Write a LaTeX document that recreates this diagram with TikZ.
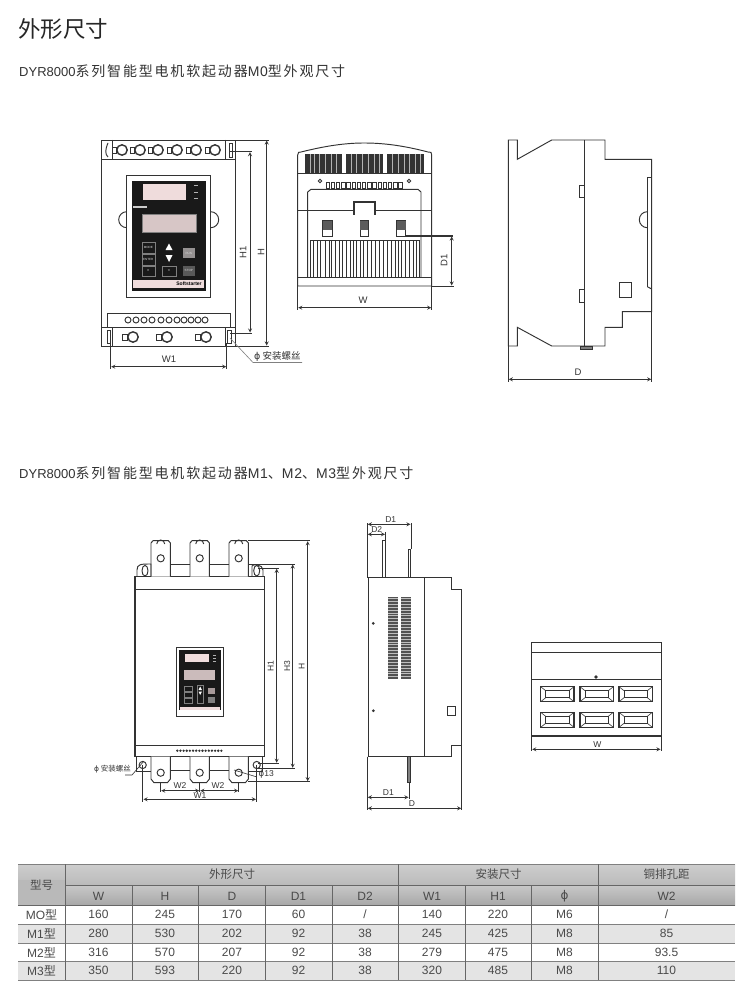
\documentclass[tikz,border=0pt]{standalone}
\usepackage{fontspec}
\setmainfont{Liberation Sans}
\newfontfamily\cjk{Noto Sans CJK SC}
\newfontfamily\cjksub[LetterSpace=13]{Noto Sans CJK SC}
\newfontfamily\latsub[LetterSpace=5]{Liberation Sans}
\newfontfamily\symf{DejaVu Sans}
\newcommand{\zhs}[1]{{\cjksub\fontsize{14}{15}\selectfont #1}}
\newcommand{\las}[1]{{\latsub\fontsize{14}{15}\selectfont #1}}
\usetikzlibrary{arrows,calc,positioning}
\definecolor{inkc}{HTML}{333333}
\definecolor{textc}{HTML}{4A4A4A}
\definecolor{headc}{HTML}{B9B9B9}
\definecolor{rowc}{HTML}{E4E4E4}
\definecolor{pinkc}{HTML}{EFDCDC}
\tikzset{
  part/.style = {draw = inkc, line width = 0.95pt},
  heavy/.style = {draw = inkc, line width = 1.4pt},
  thinl/.style = {draw = inkc, line width = 0.6pt},
  dim/.style = {draw = inkc, line width = 0.8pt, stealth-stealth, shorten >=0.5pt, shorten <=0.5pt},
  dimtext/.style = {font = \fontsize{9.5}{10}\selectfont, text = inkc, inner sep = 0.5pt},
  dimsmall/.style = {font = \fontsize{8.5}{9}\selectfont, text = inkc, inner sep = 0.5pt},
  keytext/.style = {font = \fontsize{3}{3}\selectfont, text = white!85!black, inner sep = 0pt},
  cell/.style = {font = \fontsize{12}{13}\selectfont, text = textc, inner sep = 0pt}
}
\begin{document}
\begin{tikzpicture}[x = 1pt, y = -1pt]
\useasboundingbox (0,0) rectangle (747,1000);
\fill[white] (0,0) rectangle (747,1000);
% headings
\node[anchor = west, inner sep = 0pt, text = black!85, font = \cjk\fontsize{22.5}{24}\selectfont] (title) at (18, 29) {外形尺寸};
\node[anchor = west, inner sep = 0pt, text = black!80, font = \fontsize{13}{14}\selectfont] (sub0) at (19, 71) {DYR8000\zhs{系列智能型电机软起动器}\las{M0}\zhs{型外观尺寸}};
\node[anchor = west, inner sep = 0pt, text = black!80, font = \fontsize{13}{14}\selectfont] (sub1) at (19, 473) {DYR8000\zhs{系列智能型电机软起动器}\las{M1}\zhs{、}\las{M2}\zhs{、}\las{M3}\zhs{型外观尺寸}};

% M0 front
\path[part] (101.7, 140) rectangle (235.7, 346);
\path[part] (101.7, 159) -- (235.7, 159);
\path[part] (112, 140) -- (112, 159);
\path[part] (225, 140) -- (225, 159);
\path[part] (107, 313) rectangle (230, 327);
\path[part] (101.7, 327) -- (235.7, 327);
\path[part] (112, 327) -- (112, 346);
\path[part] (225, 327) -- (225, 346);
\foreach \x in {122, 140, 158, 177, 196, 215} {
  \path[heavy] (\x, 150) circle (5.2);
  \path[part] (\x-10, 147) rectangle (\x-5.2, 153);
}
\foreach \x in {133, 167, 206} {
  \path[heavy] (\x, 337) circle (5.2);
  \path[part] (\x-11, 334) rectangle (\x-5.2, 340);
}
\foreach \x in {128, 136, 144, 152, 161, 169, 177, 184, 191, 198, 205} {
  \path[part] (\x, 320) circle (3);
}
\path[part] (108, 143) .. controls (105, 150) and (105, 154) .. (108, 157);
\path[part] (229, 143) rectangle (232, 157);
\path[part] (107, 330) rectangle (110, 343);
\path[part] (227, 330) rectangle (231, 343);
\path[part] (126.7, 227.7) arc (90:270:8);
\path[part] (210.7, 227.7) arc (90:-90:8);
% M0 panel
\path[part, fill = white] (126.7, 175) rectangle (210.7, 297);
\fill[black!90] (131.7, 180.7) rectangle (205.7, 291);
\fill[pinkc] (143.3, 184.3) rectangle (185.7, 200);
\path[draw = gray, fill = pinkc!90!black] (141.7, 214.3) rectangle (196, 232.3);
\fill[pinkc] (132.7, 280) rectangle (204.3, 287.7);
\fill[white!80!black] (132.7, 206.5) rectangle (146.7, 208);
\foreach \y in {185.7, 192.3, 198.3} { \fill[white!70!black] (194, \y-0.7) rectangle (198, \y+0.7); }
\path[draw = gray, line width = 0.4pt] (141.7, 241.7) rectangle (155, 253.3);
\path[draw = gray, line width = 0.4pt] (141.7, 254) rectangle (155, 265);
\path[draw = gray, line width = 0.4pt] (141.7, 266) rectangle (155, 275.7);
\path[draw = gray, line width = 0.4pt] (162.3, 266) rectangle (175.7, 275.7);
\node[keytext] (mode) at (148.3, 247.5) {MODE};
\node[keytext] (enter) at (148.3, 259.5) {ENTER};
\node[keytext, font = \fontsize{4}{4}\selectfont] (right) at (148.3, 271) {>>};
\node[keytext, font = \fontsize{4}{4}\selectfont] (left) at (169, 271) {<<};
\fill[white] (169, 243.5) -- (172.5, 250) -- (165.5, 250) -- cycle;
\fill[white] (169, 262) -- (172.5, 255) -- (165.5, 255) -- cycle;
\fill[gray!80!pinkc] (182.7, 248.3) rectangle (195, 258.3);
\fill[gray!70!black] (182.7, 265.7) rectangle (195, 275.7);
\node[keytext] (run) at (188.8, 253.3) {RUN};
\node[keytext] (stop) at (188.8, 270.7) {STOP};
\node[inner sep = 0pt, text = black, font = \bfseries\fontsize{5}{5}\selectfont] (brand) at (189, 284) {Softstarter};
% M0 front dimensions
\path[thinl] (235.7, 140) -- (269, 140);
\path[thinl] (235.7, 346) -- (269, 346);
\path[heavy] (230, 151.7) -- (252, 151.7);
\path[thinl] (230, 333) -- (252, 333);
\path[dim] (266.7, 140) -- (266.7, 346);
\path[dim] (250, 151.7) -- (250, 333);
\path[thinl] (110.7, 343) -- (110.7, 369);
\path[thinl] (226.7, 343) -- (226.7, 369);
\path[dim] (110.7, 366.7) -- (226.7, 366.7);
\node[dimtext, rotate = 90] (h1a) at (243, 252) {H1};
\node[dimtext, rotate = 90] (ha) at (261, 252) {H};
\node[dimtext] (w1a) at (169, 359) {W1};
\path[draw = gray, line width = 0.6pt] (230, 338) -- (253, 362.5) -- (302, 362.5);
\node[anchor = west, inner sep = 0pt, text = inkc, font = \cjk\fontsize{9.5}{10}\selectfont] (hole0) at (254, 356.5) {{\symf ϕ} 安装螺丝};

% M0 end view
\path[part] (297.7, 286) -- (297.7, 155) .. controls (297.7, 152) and (299, 152) .. (301, 152) .. controls (325, 146) and (345, 143) .. (364, 143) .. controls (385, 143) and (405, 146) .. (428, 152) .. controls (431, 152) and (431.7, 152) .. (431.7, 155) -- (431.7, 286) -- cycle;
\path[part] (297.7, 173.3) -- (431.7, 173.3);
\foreach \a/\b in {305/341.7, 346/383.3, 387.3/424.3} {
  \fill[inkc] (\a, 154) rectangle (\b, 172.7);
}
\foreach \x in {310, 314, 319, 325, 331, 336, 351, 356, 362, 368, 374, 379, 392, 398, 404, 409, 415, 420} {
  \path[draw = white!70!black, line width = 0.6pt] (\x, 154) -- (\x, 172.7);
}
\foreach \x in {0, 1, ..., 14} {
  \path[part] (326+\x*5.2, 182) rectangle (329.5+\x*5.2, 188.3);
}
\path[part] (320, 181) circle (1.7);
\path[part] (409, 181) circle (1.7);
\path[part] (307.7, 277.3) -- (307.7, 192) -- (311, 189.3) -- (418, 189.3) -- (421, 192) -- (421, 277.3);
\path[part] (297.7, 277.3) -- (431.7, 277.3);
\path[part] (297.7, 210) -- (354.3, 210);
\path[part] (375, 210) -- (431.7, 210);
\path[heavy, line width = 1.7pt] (354.3, 215) -- (354.3, 202.3) -- (375, 202.3) -- (375, 215);
\foreach \a/\b in {322.7/332.3, 360/368.3, 396.7/405.7} {
  \path[part, fill = white] (\a, 220.7) rectangle (\b, 236.7);
  \fill[inkc!80] (\a, 220.7) rectangle (\b, 230);
}
\path[thinl] (310, 240) rectangle (419, 277.3);
\foreach \x in {313, 317, 320, 325, 329, 331.5, 335, 339, 342, 346, 350, 353, 356, 360, 363, 367, 371, 375, 379, 383, 387, 391, 395, 398, 401, 405, 409, 413, 416} {
  \path[thinl] (\x, 240) -- (\x, 277.3);
}
\path[heavy] (405.7, 236) -- (453, 236);
\path[thinl] (431.7, 286) -- (454, 286);
\path[dim] (451.7, 236) -- (451.7, 286);
\node[dimtext, rotate = 90] (d1a) at (444, 260) {D1};
\path[thinl] (297.7, 286) -- (297.7, 310);
\path[thinl] (431.7, 286) -- (431.7, 310);
\path[dim] (297.7, 307.7) -- (431.7, 307.7);
\node[dimtext] (wa) at (363, 300) {W};

% M0 side view
\path[part] (508.3, 140) -- (517.3, 140) -- (517.3, 159.3) -- (551.7, 140) -- (605, 140) -- (605, 159.3) -- (651.7, 159.3) -- (651.7, 311.7) -- (622.3, 311.7) -- (622.3, 327.3) -- (605, 327.3) -- (605, 346) -- (551.7, 346) -- (517.3, 327.3) -- (517.3, 346) -- (508.3, 346) -- cycle;
\path[part] (584.3, 140) -- (584.3, 346);
\path[part] (579, 185) rectangle (584.3, 197.7);
\path[part] (579, 289.3) rectangle (584.3, 302.3);
\path[part, fill = gray] (580, 346) rectangle (592.7, 349);
\path[part] (647.3, 286.7) -- (647.3, 177.3) -- (651.7, 177.3);
\path[part] (647.3, 286.7) -- (651.7, 289);
\path[part] (647.3, 227.7) arc (90:270:8);
\path[part] (619.3, 282.3) rectangle (631.7, 297.7);
\path[thinl] (508.3, 346) -- (508.3, 382);
\path[thinl] (651.7, 311.7) -- (651.7, 382);
\path[dim] (508.3, 379.3) -- (651.7, 379.3);
\node[dimtext] (da) at (578, 372) {D};

% M1 front
\path[heavy] (135, 576.7) rectangle (264.3, 756.7);
\path[part] (135, 589) -- (264.3, 589);
\path[part] (135, 745) -- (264.3, 745);
\foreach \x in {160.7, 199.7, 238.7} {
  \path[part, fill = white] (\x-9.7, 576.7) -- (\x-9.7, 543) -- (\x-7.7, 540.7) -- (\x+7.7, 540.7) -- (\x+9.7, 543) -- (\x+9.7, 576.7);
  \path[part] (\x-4, 544) arc (180:360:4);
  \path[part] (\x, 558.3) circle (3.6);
  \path[part, fill = white] (\x-9.7, 756.7) -- (\x-9.7, 779) -- (\x-6.7, 782.7) -- (\x+6.7, 782.7) -- (\x+9.7, 779) -- (\x+9.7, 756.7);
  \path[part] (\x, 772.7) circle (3.6);
}
\path[part] (170.4, 564) -- (190, 564);
\path[part] (209.4, 564) -- (229, 564);
\path[part] (248.4, 564) -- (258, 564);
\path[part] (170.4, 770) -- (190, 770);
\path[part] (209.4, 770) -- (229, 770);
\path[part] (137, 576.7) -- (137, 570) .. controls (137, 564) and (141, 564) .. (151, 564) -- (151, 576.7);
\path[part] (252, 576.7) -- (252, 566) .. controls (252, 564) and (263, 564) .. (263, 570) -- (263, 576.7);
\path[part] (145, 570.7) ellipse (3 and 5.3);
\path[part] (256.7, 570.7) ellipse (3 and 5.3);
\path[part] (136.5, 756.7) -- (136.5, 771) -- (151, 771);
\path[part] (262.5, 756.7) -- (262.5, 771) -- (248.4, 771);
\path[part] (142.7, 765) circle (3.6);
\path[part] (256.7, 765) circle (3.6);
\foreach \x in {0, 1, ..., 14} { \fill[inkc] (177.3+\x*3.15, 750.7) circle (1.3); }
% M1 panel
\path[part] (176, 647.3) rectangle (223.3, 716.7);
\fill[black!90] (179, 650) rectangle (220.7, 710);
\fill[pinkc] (185.3, 654) rectangle (209, 662);
\fill[pinkc!85!black] (184, 670) rectangle (215, 680);
\fill[pinkc] (179.5, 706.5) rectangle (220.2, 710);
\foreach \y in {686, 692, 698} { \path[draw = gray, line width = 0.3pt] (184, \y) rectangle (192, \y+5.5); }
\path[draw = gray, line width = 0.3pt] (197, 685) rectangle (203.5, 703);
\fill[white] (200.2, 686.5) -- (202, 690) -- (198.5, 690) -- cycle;
\fill[white] (200.2, 695) -- (202, 691.5) -- (198.5, 691.5) -- cycle;
\fill[pinkc!70!black] (208, 688) rectangle (215, 693.5);
\fill[gray] (208, 697) rectangle (215, 703);
\foreach \y in {655, 658, 661} { \fill[white!70!black] (213, \y-0.4) rectangle (216, \y+0.4); }
% M1 front dimensions
\path[part] (248, 540.7) -- (310, 540.7);
\path[part] (248, 781.7) -- (310, 781.7);
\path[part] (249, 564) -- (295, 564);
\path[thinl] (256.7, 768.3) -- (295, 768.3);
\path[thinl] (258, 568.3) -- (279, 568.3);
\path[thinl] (258, 763.3) -- (279, 763.3);
\path[dim] (307.7, 540.7) -- (307.7, 781.7);
\path[dim] (292.7, 564) -- (292.7, 768.3);
\path[dim] (276.7, 568.3) -- (276.7, 763.3);
\node[dimsmall, rotate = 90] (h1b) at (270.7, 666) {H1};
\node[dimsmall, rotate = 90] (h3b) at (287.3, 666) {H3};
\node[dimsmall, rotate = 90] (hb) at (301.7, 666) {H};
\path[thinl] (142.7, 765) -- (142.7, 802);
\path[thinl] (256.7, 765) -- (256.7, 802);
\path[thinl] (160.7, 782.7) -- (160.7, 792);
\path[thinl] (199.7, 782.7) -- (199.7, 792);
\path[thinl] (238.7, 782.7) -- (238.7, 792);
\path[dim] (143, 799.3) -- (256.4, 799.3);
\path[dim] (160.7, 790.7) -- (199.7, 790.7);
\path[dim] (199.7, 790.7) -- (238.7, 790.7);
\node[dimsmall, fill = white] (w1b) at (200, 796) {W1};
\node[dimsmall] (w2l) at (180, 785.5) {W2};
\node[dimsmall] (w2r) at (218, 785.5) {W2};
\path[thinl] (234, 770) -- (256, 776.7);
\node[anchor = west, dimsmall] (hole13) at (258, 774) {{\symf ϕ}13};
\path[thinl] (125, 775) -- (132, 775) -- (144, 761);
\node[anchor = west, inner sep = 0pt, text = inkc, font = \cjk\fontsize{7.5}{8}\selectfont] (hole1) at (94, 769) {{\symf ϕ} 安装螺丝};

% M1 side view
\path[part] (368.3, 577.3) rectangle (424, 756.7);
\path[part] (424, 577.3) -- (451, 577.3) -- (451, 589) -- (461.7, 589) -- (461.7, 745) -- (451, 745) -- (451, 756.7) -- (424, 756.7);
\foreach \a/\b in {388.3/398.3, 401/411} {
  \fill[inkc!85] (\a, 596.7) rectangle (\b, 679.3);
  \foreach \n in {0, 1, ..., 27} {
    \path[draw = white!75!black, line width = 0.35pt] (\a, 598.2+\n*2.9) -- (\b, 598.2+\n*2.9);
  }
}
\fill[inkc] (373.3, 623.3) circle (1.5);
\fill[inkc] (373.3, 710.7) circle (1.5);
\path[part] (447.3, 706.7) rectangle (455.3, 715);
\path[thinl] (367.3, 523) -- (367.3, 578);
\path[heavy, line width = 1.5pt] (367.3, 563) -- (367.3, 578);
\path[part] (382.5, 577.3) -- (382.5, 540) -- (385.7, 540) -- (385.7, 577.3);
\path[thinl] (385.5, 532) -- (385.5, 540);
\path[part] (408, 577.3) -- (408, 549) -- (410.7, 549) -- (410.7, 577.3);
\path[thinl] (411, 523) -- (411, 549);
\path[dim] (367.3, 524.3) -- (411, 524.3);
\path[dim] (367.3, 534.3) -- (385.5, 534.3);
\node[dimsmall] (d1top) at (390.7, 519.5) {D1};
\node[dimsmall] (d2top) at (376.7, 529.5) {D2};
\path[thinl] (367.3, 756.7) -- (367.3, 810);
\path[heavy, line width = 1.5pt] (367.3, 756.7) -- (367.3, 770);
\path[part, fill = gray] (407, 756.7) rectangle (410, 782.7);
\path[thinl] (409, 782.7) -- (409, 799);
\path[thinl] (461.7, 745) -- (461.7, 810);
\path[dim] (367.3, 797.3) -- (409, 797.3);
\path[dim] (367.3, 808.3) -- (461.7, 808.3);
\node[dimsmall] (d1bot) at (388.3, 793) {D1};
\node[dimsmall, fill = white] (dbot) at (412, 804) {D};

% M1 top view
\path[part] (531.7, 642.3) rectangle (661, 735.7);
\path[heavy] (531.7, 652.3) -- (661, 652.3);
\path[part] (531.7, 679.3) -- (661, 679.3);
\path[heavy, line width = 1.7pt] (531.7, 735.7) -- (661, 735.7);
\fill[inkc] (596, 677) circle (1.8);
\foreach \a in {540.7, 580, 619} {
  \foreach \b in {686.7, 712.3} {
    \path[heavy] (\a, \b) rectangle (\a+33.3, \b+15);
    \path[thinl] (\a+5, \b+4) rectangle (\a+28.3, \b+11);
    \path[thinl] (\a, \b) -- (\a+5, \b+4);
    \path[thinl] (\a+33.3, \b) -- (\a+28.3, \b+4);
    \path[thinl] (\a, \b+15) -- (\a+5, \b+11);
    \path[thinl] (\a+33.3, \b+15) -- (\a+28.3, \b+11);
  }
}
\path[thinl] (531.7, 735.7) -- (531.7, 751);
\path[thinl] (661, 735.7) -- (661, 751);
\path[dim] (531.7, 749.3) -- (661, 749.3);
\node[dimsmall] (wtop) at (597.3, 744.5) {W};

% table
\shade[top color = headc!70!white, bottom color = headc] (18, 864.3) rectangle (735, 885.7);
\shade[top color = headc!80!white, bottom color = headc!90!black] (18, 885.7) rectangle (735, 905.7);
\fill[headc] (18, 880) rectangle (65, 905.7);
\fill[rowc] (18, 924) rectangle (735, 943);
\fill[rowc] (18, 961.7) rectangle (735, 980);
\path[draw = gray, line width = 1pt] (18, 864.3) -- (735, 864.3);
\path[draw = black!60, line width = 0.6pt] (65, 885.7) -- (735, 885.7);
\path[draw = black!60, line width = 1pt] (18, 905.7) -- (735, 905.7);
\foreach \y in {924, 943, 961.7, 980} { \path[draw = gray, line width = 0.8pt] (18, \y) -- (735, \y); }
\foreach \x in {65, 398.6, 598} { \path[draw = black!60, line width = 0.6pt] (\x, 864.3) -- (\x, 980); }
\foreach \x in {132, 198.5, 265, 332, 465, 531} { \path[draw = black!60, line width = 0.6pt] (\x, 885.7) -- (\x, 980); }
\node[cell, font = \cjk\fontsize{11.5}{12}\selectfont] (hmodel) at (41.5, 885) {型号};
\node[cell, font = \cjk\fontsize{11.5}{12}\selectfont] (hshape) at (232, 874.5) {外形尺寸};
\node[cell, font = \cjk\fontsize{11.5}{12}\selectfont] (hmount) at (498.5, 874.5) {安装尺寸};
\node[cell, font = \cjk\fontsize{11.5}{12}\selectfont] (hcopper) at (666.5, 874.5) {铜排孔距};
\foreach \x/\t [count = \i] in {98.5/W, 165/H, 232/D, 298.5/D1, 365/D2, 432/W1, 498/H1, 564.5/{{\symf ϕ}}, 666.5/W2} {
  \node[cell] (h\i) at (\x, 896) {\t};
}
\foreach \y/\m/\a/\b/\c/\d/\e/\f/\g/\h/\k [count = \r] in {
  914.5/MO/160/245/170/60/{/}/140/220/M6/{/},
  933.5/M1/280/530/202/92/38/245/425/M8/85,
  952.5/M2/316/570/207/92/38/279/475/M8/93.5,
  970.5/M3/350/593/220/92/38/320/485/M8/110} {
  \node[cell] (m\r) at (41.5, \y) {\m{\cjk 型}};
  \node[cell] (a\r) at (98.5, \y) {\a};
  \node[cell] (b\r) at (165, \y) {\b};
  \node[cell] (c\r) at (232, \y) {\c};
  \node[cell] (d\r) at (298.5, \y) {\d};
  \node[cell] (e\r) at (365, \y) {\e};
  \node[cell] (f\r) at (432, \y) {\f};
  \node[cell] (g\r) at (498, \y) {\g};
  \node[cell] (p\r) at (564.5, \y) {\h};
  \node[cell] (k\r) at (666.5, \y) {\k};
}
\end{tikzpicture}
\end{document}
